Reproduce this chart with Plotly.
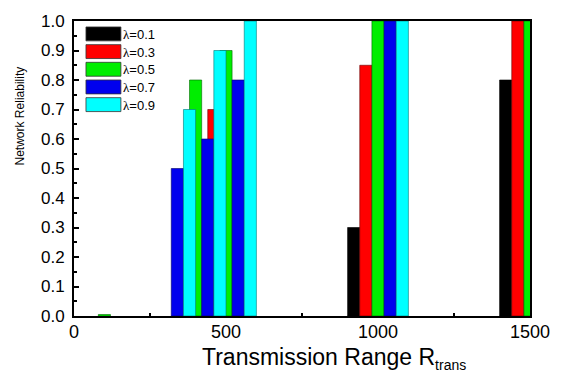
import plotly.graph_objects as go

# ---- data ----
ranges = [100, 300, 400, 500, 1000, 1500]          # transmission range groups
series_names = ["λ=0.1", "λ=0.3", "λ=0.5", "λ=0.7", "λ=0.9"]
rel_01 = [0.0, 0.0, 0.0, 0.0, 0.30, 0.80]
rel_03 = [0.0, 0.0, 0.0, 0.70, 0.85, 1.00]
rel_05 = [0.005, 0.0, 0.80, 0.90, 1.00, 1.00]
rel_07 = [0.0, 0.50, 0.60, 0.80, 1.00, 1.00]
rel_09 = [0.0, 0.70, 0.90, 1.00, 1.00, 1.00]
y_ticks = [0.0, 0.1, 0.2, 0.3, 0.4, 0.5, 0.6, 0.7, 0.8, 0.9, 1.0]
x_ticks = [0, 500, 1000, 1500]

series_vals = [rel_01, rel_03, rel_05, rel_07, rel_09]
colors = ["#000000", "#FF0000", "#00EE00", "#0000EE", "#00FFFF"]
outline = ["#000000", "#660000", "#006600", "#000066", "#007777"]

BAR_W = 40
fig = go.Figure()
for i, (name, vals) in enumerate(zip(series_names, series_vals)):
    # zero-height bars are not drawn in the original
    yv = [v if v > 0 else None for v in vals]
    fig.add_trace(go.Bar(
        x=ranges, y=yv, name=name,
        width=BAR_W, offset=-2.5 * BAR_W + i * BAR_W,
        marker=dict(color=colors[i], line=dict(color=outline[i], width=0.6)),
        showlegend=False,
    ))

FONT = "Liberation Sans, Arial, sans-serif"
L, R, T, B = 74, 31, 19, 57
W, H = 562, 373
pw, ph = W - L - R, H - T - B

def px_x(p):
    return (p - L) / pw

def px_y(p):
    return (H - B - p) / ph

fig.update_layout(
    width=W, height=H,
    margin=dict(l=L, r=R, t=T, b=B, pad=0),
    paper_bgcolor="white", plot_bgcolor="white",
    barmode="overlay",
    font=dict(family=FONT, color="black"),
    xaxis=dict(
        range=[0, 1500], tickvals=x_ticks, ticktext=[str(v) for v in x_ticks],
        ticks="inside", ticklen=5, tickwidth=1.5, tickcolor="black",
        minor=dict(ticks="inside", ticklen=3, tickwidth=1.5, dtick=250, tick0=0, tickcolor="black"),
        showline=True, linewidth=2, linecolor="black", mirror=True,
        showgrid=False, zeroline=False, layer="below traces",
        tickfont=dict(size=18, family=FONT, color="black"),
        ticklabelstandoff=-2,
    ),
    yaxis=dict(
        range=[0, 1.0], tickvals=y_ticks, ticktext=[f"{v:.1f}" for v in y_ticks],
        ticks="inside", ticklen=5, tickwidth=1.5, tickcolor="black",
        minor=dict(ticks="inside", ticklen=3, tickwidth=1.5, dtick=0.05, tick0=0, tickcolor="black"),
        showline=True, linewidth=2, linecolor="black", mirror=True,
        showgrid=False, zeroline=False, layer="below traces",
        tickfont=dict(size=17, family=FONT, color="black"),
        ticklabelstandoff=4,
    ),
)

# custom legend (large swatches like the original)
shapes = []
annotations = []
for i, name in enumerate(series_names):
    top = 25 + 17.8 * i
    shapes.append(dict(
        type="rect", xref="paper", yref="paper",
        x0=px_x(86), x1=px_x(121), y0=px_y(top + 14), y1=px_y(top),
        fillcolor=colors[i], line=dict(color="#333333", width=0.8), layer="above",
    ))
    annotations.append(dict(
        xref="paper", yref="paper", x=px_x(121.5), y=px_y(top + 7.5),
        xanchor="left", yanchor="middle", showarrow=False,
        text='<span style="font-family:Liberation Serif">λ</span>' + name[1:],
        font=dict(size=13, family=FONT, color="black"),
    ))

# axis titles
annotations.append(dict(
    xref="paper", yref="paper", x=px_x(20), y=px_y(115),
    xanchor="center", yanchor="middle", showarrow=False, textangle=-90,
    text="Network Reliability", font=dict(size=12, family=FONT, color="black"),
))
annotations.append(dict(
    xref="paper", yref="paper", x=px_x(335), y=px_y(342),
    xanchor="center", yanchor="top", showarrow=False,
    text='Transmission Range R<sub><span style="font-size:14px">trans</span></sub>',
    font=dict(size=23, family=FONT, color="black"),
))

fig.update_layout(shapes=shapes, annotations=annotations)
fig.write_html("out.html")
